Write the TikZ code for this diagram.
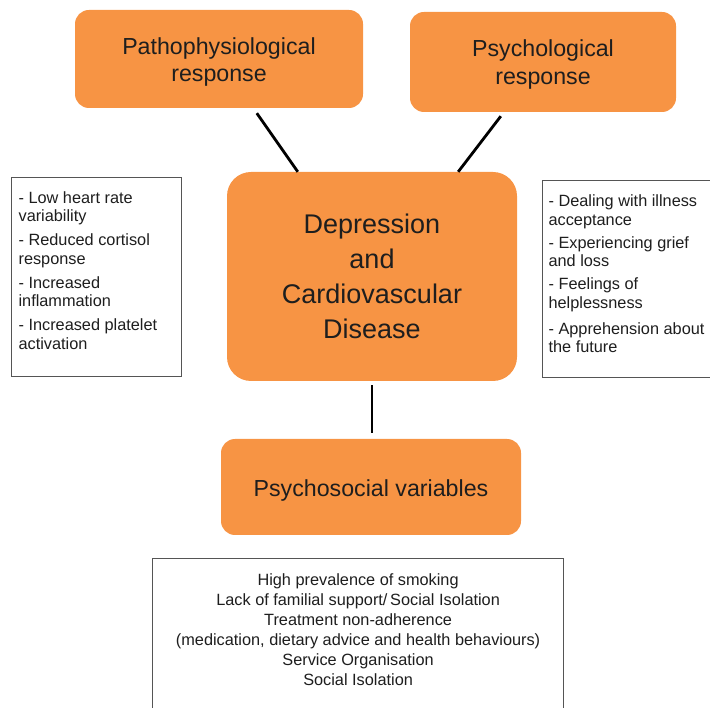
\documentclass[tikz,border=0pt]{standalone}
\usepackage{fontspec}
\setmainfont{Liberation Sans}
\usetikzlibrary{calc}
\definecolor{orng}{HTML}{F79444}
\definecolor{txt}{HTML}{1E1E1E}
\definecolor{frame}{HTML}{555555}
\begin{document}
\begin{tikzpicture}[x=1pt,y=-1pt]
\tikzset{
  obox/.style={draw=none, fill=orng, rounded corners=14pt, text=txt, align=center, inner sep=0pt},
  lbox/.style={draw=frame, line width=1.2pt, fill=white, inner sep=0pt, anchor=north west, text=txt},
  link/.style={line width=2.8pt, black},
  listfont/.style={font=\fontsize{16.3}{18.5}\selectfont},
}
\useasboundingbox (0,0) rectangle (710,708);
\clip (0,0) rectangle (710,708);

\node[obox, minimum width=288pt, minimum height=98pt, font=\fontsize{23.2}{27}\selectfont] (patho) at (219,59) {\rule{0pt}{23pt}Pathophysiological\\response};
\node[obox, minimum width=266pt, minimum height=100pt, font=\fontsize{23.2}{27.5}\selectfont] (psych) at (543,62) {\rule{0pt}{22pt}Psychological\\response};
\node[obox, rounded corners=24pt, minimum width=290pt, minimum height=209pt, font=\fontsize{27}{35}\selectfont] (cvd) at (372,276.5) {Depression\\and\\Cardiovascular\\Disease};
\node[obox, minimum width=300pt, minimum height=96pt, font=\fontsize{23.2}{27}\selectfont] (psv) at (371,487) {\rule{0pt}{24pt}Psychosocial variables};

\node[lbox, listfont] (phys) at (11,177) {\hspace*{7pt}\parbox[t][199pt][t]{163pt}{\raggedright
\rule{0pt}{25.5pt}- Low heart rate\\variability\\[5.5pt]
- Reduced cortisol\\response\\[5.5pt]
- Increased\\inflammation\\[5.5pt]
- Increased platelet\\activation}};

\node[lbox, listfont] (psyl) at (542,180) {\hspace*{6pt}\parbox[t][197pt][t]{171pt}{\raggedright
\rule{0pt}{26pt}- Dealing with illness\\acceptance\\[4.5pt]
- Experiencing grief\\and loss\\[4.5pt]
- Feelings of\\helplessness\\[7.5pt]
- Apprehension about\\the future}};

\node[lbox, font=\fontsize{16.3}{20}\selectfont] (psoc) at (152,558) {\parbox[t][170pt][t]{411pt}{\centering
\rule{0pt}{27pt}High prevalence of smoking\\
Lack of familial support/\,Social Isolation\\
Treatment non-adherence\\
(medication, dietary advice and health behaviours)\\
Service Organisation\\
Social Isolation}};

\draw[link] ([xshift=182pt,yshift=-5pt]patho.south west) -- ([xshift=71pt]cvd.north west);
\draw[link] ([xshift=91pt,yshift=-4pt]psych.south west) -- ([xshift=-59pt]cvd.north east);
\draw[link, shorten <=4pt, shorten >=6pt] (cvd.south) -- (cvd.south |- psv.north);
\end{tikzpicture}
\end{document}
